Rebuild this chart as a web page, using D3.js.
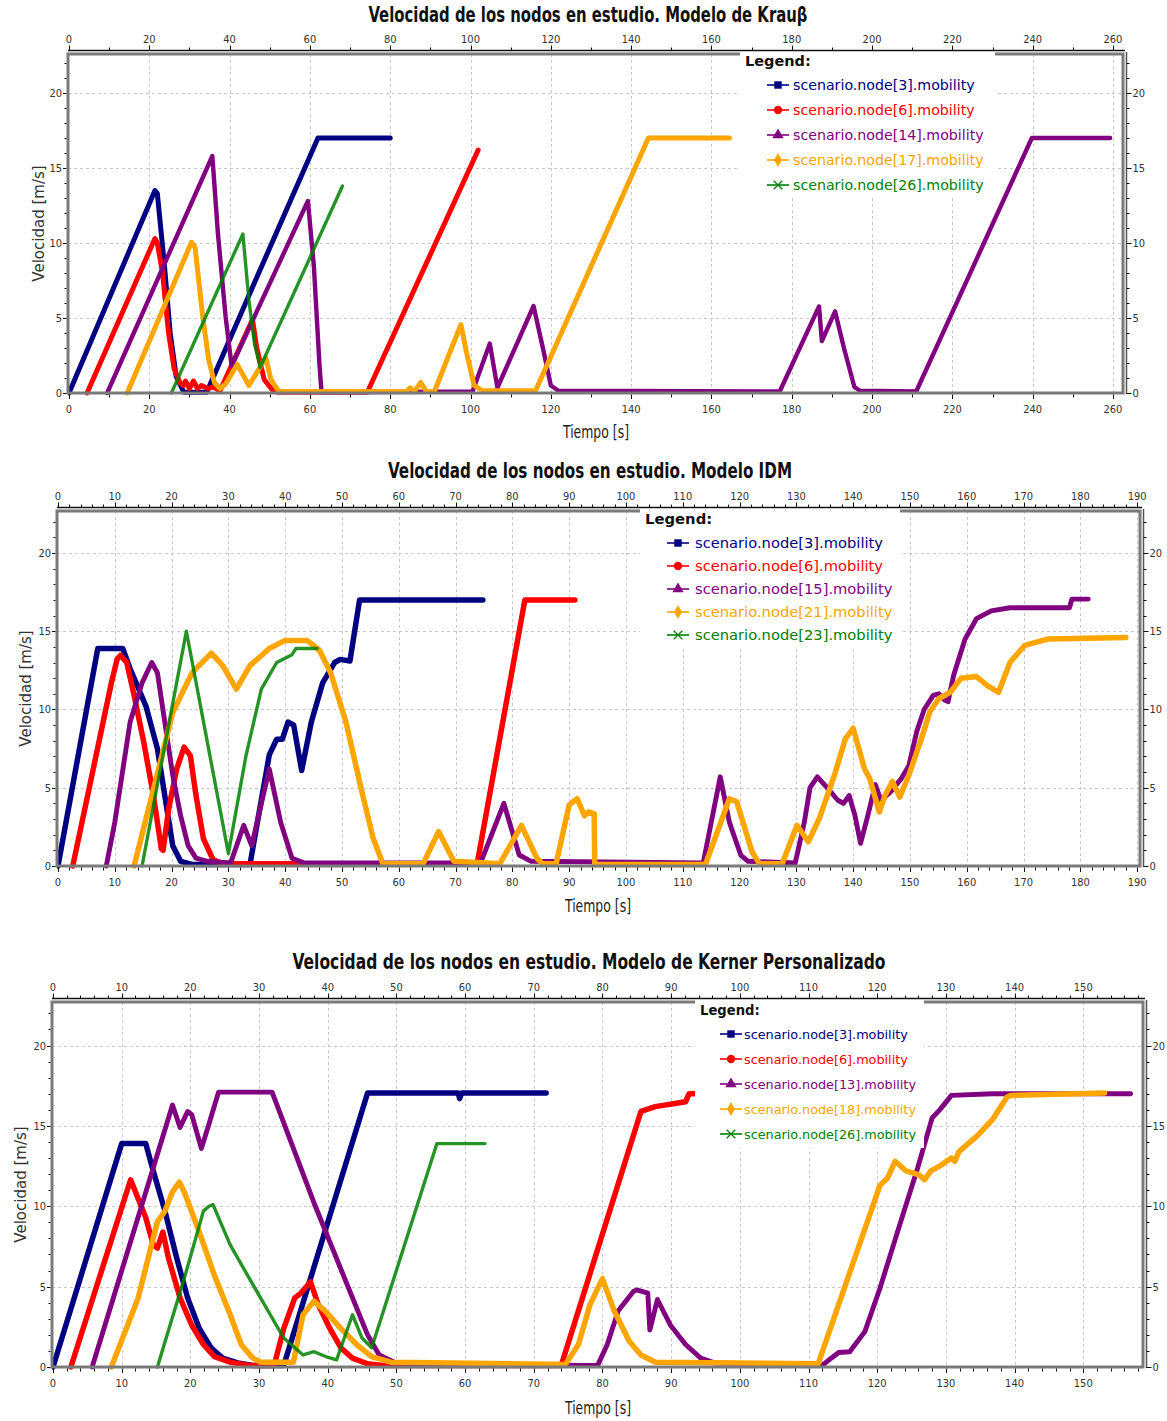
<!DOCTYPE html>
<html lang="es">
<head>
<meta charset="UTF-8">
<title>Velocidad de los nodos en estudio</title>
<style>
  body { margin: 0; background: #fff; }
  svg { display: block; background: #fff; }
  .title { font-family: "Liberation Sans Narrow", "DejaVu Sans Condensed", "Liberation Sans", sans-serif; font-weight: bold; font-size: 21px; fill: #111; }
  .tick-label { font-family: "Liberation Sans Narrow", "DejaVu Sans Condensed", "Liberation Sans", sans-serif; font-size: 11px; fill: #333; }
  .x-label { font-family: "Liberation Sans Narrow", "DejaVu Sans Condensed", "Liberation Sans", sans-serif; font-size: 17px; fill: #222; }
  .y-label { font-family: "DejaVu Sans", "Liberation Sans", sans-serif; font-size: 15px; fill: #333; }
  .legend-title { font-family: "DejaVu Sans", "Liberation Sans", sans-serif; font-weight: bold; fill: #111; }
  .legend-text { font-family: "DejaVu Sans", "Liberation Sans", sans-serif; }
</style>
</head>
<body>
<svg id="chart" width="1167" height="1421"></svg>

<script src="https://cdnjs.cloudflare.com/ajax/libs/d3/7.8.5/d3.min.js"></script>
<script>
    // ---- data: [tiempo (s), velocidad (m/s)] ----

    // Modelo de Krauss
    const kraussNames = ["scenario.node[3].mobility", "scenario.node[6].mobility", "scenario.node[14].mobility",
        "scenario.node[17].mobility", "scenario.node[26].mobility"];
    const krauss3 = [[0,0],[21.4,13.5],[22,13.3],[23.8,8.4],[25.2,4],[26.7,1.1],[28.6,0.05],[34.3,0.05],
        [44.8,6.5],[62,17],[80,17]];
    const krauss6 = [[4.5,0],[21.4,10.3],[22,10],[23.3,8],[24.8,4],[26.2,1.6],[27.6,0.7],[28.5,0.5],[29,0.8],
        [30,0.3],[31,0.8],[32,0.3],[33,0.5],[34.5,0.3],[36,0.4],[37.6,0.15],[45.7,4.9],[46.7,3.1],[48.6,0.9],
        [50.5,0.25],[52,0.05],[74.3,0.05],[101.9,16.2]];
    const krauss14 = [[9.5,0],[35.7,15.8],[37.1,10.6],[39,5.1],[40.5,1.8],[59.5,12.8],[61,8.4],[62.4,1.8],
        [62.9,0.05],[100.5,0.1],[104.8,3.3],[106.7,0.35],[115.7,5.8],[118.1,2.9],[120,0.5],[121.9,0.15],
        [177,0.1],[186.8,5.77],[187.5,3.46],[190.8,5.44],[193,3],[195.6,0.4],[197,0.15],[211,0.1],
        [239.8,17],[259.3,17]];
    const krauss17 = [[14.5,0],[30.5,10.05],[31.4,9.7],[33.3,5.1],[34.8,2.2],[36.2,0.7],[37.6,0.3],[39,0.6],
        [41.9,1.9],[44.8,0.5],[49,2.35],[50.3,0.9],[52,0.2],[53,0.1],[84,0.1],[85,0.35],[86,0.1],[87.6,0.7],
        [89,0.1],[91,0.1],[97.6,4.56],[99,2.7],[100.9,0.5],[103,0.15],[116.2,0.15],[144.3,17],[164.5,17]];
    const krauss26 = [[25.5,0],[43.3,10.6],[44.8,6.2],[46.2,3.3],[47.6,1.7],[68.1,13.8]];

    // Modelo IDM
    const idmNames = ["scenario.node[3].mobility", "scenario.node[6].mobility", "scenario.node[15].mobility",
        "scenario.node[21].mobility", "scenario.node[23].mobility"];
    const idm3 = [[0,0],[7,13.9],[11.4,13.9],[12.7,12.6],[15.5,10.2],[17.5,7.5],[18.8,4.5],[20.2,1.3],
        [21.6,0.3],[23.6,0.1],[33.8,0.1],[37.2,7.1],[38.5,8.1],[39.5,8.1],[40.5,9.2],[41.5,9],[42.9,6.1],
        [44.6,9.2],[46.6,11.7],[48.7,13],[49.7,13.2],[51.4,13.1],[53.1,17],[74.8,17]];
    const idm6 = [[2.6,0],[9.4,11.7],[10.4,13.2],[11,13.45],[12.1,13],[13.4,10.9],[15.1,7.9],[16.8,4.5],
        [18.2,1.1],[18.5,1],[19.5,3.7],[20.9,6.2],[22.2,7.6],[23.3,7.05],[24.3,4.5],[25.6,1.75],[27.3,0.4],
        [29,0.15],[73.8,0.15],[82.2,17],[91,17]];
    const idm15 = [[8.5,0],[10,2.8],[12.7,9.2],[14.8,11.7],[16.5,13],[17.5,12.35],[18.8,9.2],[20.2,5.8],
        [21.6,3.2],[22.9,1.3],[24.3,0.5],[26.3,0.3],[30.4,0.2],[32.7,2.6],[34.1,1.3],[37.2,6.2],[39.2,2.8],
        [41.2,0.5],[43.3,0.2],[74.4,0.2],[78.5,4],[81.2,0.7],[83.3,0.3],[113.6,0.2],[116.6,5.7],[118.2,2.8],
        [120.2,0.7],[121.5,0.3],[129.8,0.2],[131.4,2.8],[132.4,5],[133.7,5.7],[135.4,5],[137.3,4.2],[138.3,4],
        [139.3,4.5],[140.3,3.25],[141.3,1.45],[142.6,3.25],[143.9,5.2],[144.9,4.2],[146.5,4.7],[148.5,5.6],
        [149.8,6.4],[151.2,8.6],[152.5,10],[154.1,10.9],[155.1,11],[156.1,10.6],[156.7,10.5],[157.7,12.2],
        [159.7,14.5],[161.7,15.8],[164.3,16.3],[167.6,16.5],[178.1,16.5],[178.5,17.05],[181.4,17.05]];
    const idm21 = [[13.4,0],[16.8,4.9],[20.2,9.8],[23.6,12.35],[27,13.6],[29,12.8],[31.4,11.3],[33.8,12.8],
        [37.2,13.9],[39.9,14.4],[43.9,14.4],[46,13.8],[48,12.35],[50.7,9.2],[53.4,4.9],[55.5,1.75],[57.2,0.15],
        [64.3,0.15],[67,2.2],[69.7,0.3],[77.8,0.15],[81.6,2.6],[84.3,0.5],[85.3,0.15],[87.7,0.15],[90,3.9],
        [91.4,4.3],[92.7,3.2],[93.4,3.45],[94.4,3.35],[94.5,0.1],[114,0.1],[118.2,4.3],[119.5,4.1],[122.2,0.9],
        [123.5,0.15],[127.5,0.15],[130.1,2.6],[132.1,1.55],[134,3],[136.7,5.8],[138.6,8.1],[140,8.8],[142,6.2],
        [142.9,5.6],[144.6,3.45],[145.6,4.5],[146.9,5.4],[148.2,4.4],[149.8,5.8],[151.8,7.9],[153.5,9.85],
        [155.1,10.7],[157.1,11.1],[159,12],[161.7,12.1],[163.7,11.5],[165.6,11.1],[167.6,13],[170.2,14.1],
        [174.2,14.5],[188,14.6]];
    const idm23 = [[14.8,0],[22.6,15],[30,0.8],[33.1,7.05],[35.8,11.3],[38.5,13],[41.2,13.5],[41.9,13.9],[45.6,13.9]];

    // Modelo de Kerner personalizado
    const kernerNames = ["scenario.node[3].mobility", "scenario.node[6].mobility", "scenario.node[13].mobility",
        "scenario.node[18].mobility", "scenario.node[26].mobility"];
    const kerner3 = [[0,0],[10,13.9],[13.5,13.9],[14.6,12.2],[16.3,9.7],[18,6.8],[19.6,4.3],[21.3,2.4],[23,1.2],
        [24.7,0.55],[26.9,0.25],[29.1,0.1],[33.6,0.1],[45.8,17.05],[59,17.05],[59.2,16.7],[59.5,17.05],[71.8,17.05]];
    const kerner6 = [[2.6,0],[11.3,11.65],[13.5,9.3],[14.6,7.6],[15.2,7.4],[16,8.4],[16.8,6.8],[18.5,4.3],
        [20.2,2.6],[21.9,1.4],[23.5,0.65],[25.8,0.3],[28.6,0.1],[32.2,0.1],[33.6,2.4],[35.2,4.3],[36.1,4.6],
        [37.5,5.3],[38.6,3.9],[40.3,2.4],[41.9,1.2],[43.6,0.55],[45.8,0.2],[48,0.1],[74,0.1],[85.6,15.9],
        [87.7,16.2],[92.1,16.5],[92.6,17],[93.7,17]];
    const kerner13 = [[5.7,0],[17.4,16.3],[18.5,14.9],[19.6,15.9],[20.2,15.7],[21.6,13.6],[22.7,15.1],[24.1,17.1],
        [31.9,17.1],[38.2,10],[45.8,2],[47.5,0.75],[49.7,0.3],[53.6,0.15],[79.3,0.1],[80.7,1.4],[82.3,3.5],
        [84.5,4.7],[85,4.8],[86.6,4.6],[86.9,2.3],[88,4.2],[89.9,2.6],[92.1,1.4],[94.3,0.55],[96.4,0.25],
        [112,0.1],[113.3,0.55],[114.4,0.9],[116,0.95],[118.2,2.2],[120.4,4.9],[123.1,8.6],[125.9,12.4],
        [128,15.5],[129.1,16],[130.8,16.9],[136.8,17],[156.9,17]];
    const kerner18 = [[8.5,0],[12.4,4.3],[15.2,9.05],[16.3,9.7],[17.4,10.9],[18.4,11.5],[19.1,10.9],[21.3,8.4],
        [23.5,5.7],[25.8,3.25],[27.4,1.4],[29.1,0.55],[30.2,0.3],[35,0.3],[36.4,3.25],[38,4.1],[39.7,3.45],
        [41.9,2.4],[44.2,1.4],[46.4,0.65],[49.2,0.3],[74.6,0.15],[76.5,1.4],[78.2,3.9],[80,5.5],[81.7,3.5],
        [83.9,1.6],[85.6,0.75],[87.7,0.3],[111.4,0.2],[120.4,11.3],[121.5,11.75],[122.6,12.8],[124.2,12.2],
        [126.1,11.95],[126.9,11.65],[127.8,12.2],[129.1,12.5],[130.8,13],[131.3,12.8],[131.9,13.4],[134.6,14.4],
        [136.8,15.4],[138.9,16.8],[139.5,16.9],[153.1,17.05]];
    const kerner26 = [[15.2,0],[19.1,5.5],[21.9,9.7],[22.7,10],[23.3,10.1],[25.8,7.6],[28.6,5.5],[31.3,3.5],
        [33.6,1.8],[36.4,0.75],[38,0.95],[39.7,0.65],[41.3,0.45],[43.6,3.25],[45,1.8],[46.4,1.2],[55.9,13.9],[62.9,13.9]];

    // tick values
    const kraussXTicks = d3.range(0, 261, 20);
    const idmXTicks = d3.range(0, 191, 10);
    const kernerXTicks = d3.range(0, 151, 10);
    const yTicks = [0, 5, 10, 15, 20];

    const titles = ["Velocidad de los nodos en estudio. Modelo de Krau\u03b2",
        "Velocidad de los nodos en estudio. Modelo IDM",
        "Velocidad de los nodos en estudio. Modelo de Kerner Personalizado"];

    // styles, in legend order
    const colors = ["#000080", "#ff0000", "#800080", "#ffa500", "#008000"];
    const markers = [d3.symbolSquare, d3.symbolCircle, d3.symbolTriangle, d3.symbolDiamond, d3.symbolTimes];

    const svg = d3.select("#chart");

    // layout of each panel (pixels)
    const panels = [
        { title: titles[0], names: kraussNames, series: [krauss3, krauss6, krauss14, krauss17, krauss26],
          xTicks: kraussXTicks, xMinor: 10, xMax: 262.5, x0: 69, x1: 1123, y0: 393, top: 54, yMax: 22.6,
          titleX: 588, titleY: 22, titleW: 439, xLabelX: 596, xLabelY: 438, yLabelX: 44, leftLabX: 62,
          legend: { x: 745, y: 66, mx: 778, tx: 793, box: [740, 995, 198], gap: 25, size: 14.2, tsize: 14.5 }, lw: 5 },
        { title: titles[1], names: idmNames, series: [idm3, idm6, idm15, idm21, idm23],
          xTicks: idmXTicks, xMinor: 2, xMax: 190.5, x0: 58, x1: 1140, y0: 866, top: 511, yMax: 22.68,
          titleX: 590, titleY: 478, titleW: 404, xLabelX: 598, xLabelY: 912, yLabelX: 31, leftLabX: 51,
          legend: { x: 645, y: 524, mx: 678, tx: 695, box: [640, 900, 646], gap: 23, size: 14.7, tsize: 14.8 }, lw: 5.5 },
        { title: titles[2], names: kernerNames, series: [kerner3, kerner6, kerner13, kerner18, kerner26],
          xTicks: kernerXTicks, xMinor: 2, xMax: 158.7, x0: 53, x1: 1143, y0: 1367, top: 1002, yMax: 22.71,
          titleX: 589, titleY: 969, titleW: 593, xLabelX: 598, xLabelY: 1414, yLabelX: 26, leftLabX: 46,
          legend: { x: 700, y: 1015, mx: 731, tx: 744, box: [695, 924, 1148], gap: 25, size: 12.8, tsize: 13.2 }, lw: 5.5 }
    ];

    panels.forEach(drawPanel);

    function drawPanel(p) {
        const g = svg.append("g");
        const x = d3.scaleLinear().domain([0, p.xMax]).range([p.x0, p.x1]);
        const y = d3.scaleLinear().domain([0, p.yMax]).range([p.y0, p.top]);
        const left = p.x0 - 1, right = p.x1, top = p.top, bottom = p.y0;

        // title
        g.append("text").attr("class", "title")
            .attr("x", p.titleX).attr("y", p.titleY)
            .attr("text-anchor", "middle")
            .attr("textLength", p.titleW).attr("lengthAdjust", "spacingAndGlyphs")
            .text(p.title);

        // dashed grid
        const grid = g.append("g").attr("stroke", "#c9c9c9").attr("stroke-dasharray", "3,3").attr("stroke-width", 1);
        grid.selectAll("line.gx").data(p.xTicks.filter(d => d > 0)).join("line")
            .attr("x1", d => Math.round(x(d)) + 0.5).attr("x2", d => Math.round(x(d)) + 0.5)
            .attr("y1", top).attr("y2", bottom);
        grid.selectAll("line.gy").data(yTicks.filter(d => d > 0)).join("line")
            .attr("y1", d => Math.round(y(d)) + 0.5).attr("y2", d => Math.round(y(d)) + 0.5)
            .attr("x1", left).attr("x2", right);

        // series (clipped to the plot)
        const clipId = "clip" + p.y0;
        svg.append("clipPath").attr("id", clipId).append("rect")
            .attr("x", left).attr("y", top).attr("width", right - left).attr("height", bottom - top + 3);
        const line = d3.line().x(d => x(d[0])).y(d => y(d[1]));
        const lines = g.append("g").attr("clip-path", `url(#${clipId})`);
        p.series.forEach((s, i) => {
            lines.append("path")
                .attr("d", line(s))
                .attr("fill", "none")
                .attr("stroke", colors[i])
                .attr("stroke-width", i === 4 ? 3.4 : (i === 2 ? p.lw - 0.6 : p.lw))
                .attr("stroke-opacity", i === 4 ? 0.85 : 1)
                .attr("stroke-linejoin", "round")
                .attr("stroke-linecap", "round");
        });

        // legend (white box hides grid and frame under it)
        const L = p.legend;
        const lg = g.append("g");
        lg.append("rect").attr("x", L.box[0]).attr("y", top - 2)
            .attr("width", L.box[1] - L.box[0]).attr("height", L.box[2] - top + 2).attr("fill", "#fff");

        // plot frame
        g.append("rect").attr("x", left).attr("y", top).attr("width", right - left).attr("height", bottom - top)
            .attr("fill", "none").attr("stroke", "#7a7a7a").attr("stroke-width", 3);
        // white legend box over the top frame
        g.append("rect").attr("x", L.box[0]).attr("y", top - 2)
            .attr("width", L.box[1] - L.box[0]).attr("height", 6).attr("fill", "#fff");

        lg.raise();
        lg.append("text").attr("class", "legend-title")
            .attr("x", L.x).attr("y", L.y).style("font-size", L.tsize + "px").text("Legend:");
        p.names.forEach((name, i) => {
            const cy = L.y + 19 + i * L.gap;
            lg.append("line").attr("x1", L.mx - 11).attr("x2", L.mx + 11).attr("y1", cy).attr("y2", cy)
                .attr("stroke", colors[i]).attr("stroke-width", 1.6);
            const sym = d3.symbol().type(markers[i]).size(i === 4 ? 50 : 55);
            lg.append("path").attr("d", sym()).attr("transform", `translate(${L.mx},${cy})`)
                .attr("fill", i === 4 ? "none" : colors[i])
                .attr("stroke", i === 4 ? colors[i] : "none").attr("stroke-width", 1.3);
            lg.append("text").attr("class", "legend-text")
                .attr("x", L.tx).attr("y", cy + 5)
                .style("font-size", L.size + "px")
                .attr("fill", colors[i])
                .text(name);
        });

        // top axis
        const axTop = top - 3.5;
        const minorX = d3.range(0, p.xMax + 0.001, p.xMinor);
        const ax = g.append("g").attr("stroke", "#111").attr("stroke-width", 1);
        ax.append("line").attr("x1", left).attr("x2", right + 2).attr("y1", axTop).attr("y2", axTop)
            .attr("stroke-width", 1.5);
        ax.selectAll("line.tt").data(minorX).join("line")
            .attr("x1", d => Math.round(x(d)) + 0.5).attr("x2", d => Math.round(x(d)) + 0.5)
            .attr("y1", axTop).attr("y2", d => axTop - (p.xTicks.includes(d) ? 5 : 3));
        // bottom ticks
        ax.selectAll("line.bt").data(minorX).join("line")
            .attr("x1", d => Math.round(x(d)) + 0.5).attr("x2", d => Math.round(x(d)) + 0.5)
            .attr("y1", bottom + 1.5).attr("y2", d => bottom + (p.xTicks.includes(d) ? 6 : 4.5));
        // left ticks
        const minorY = d3.range(0, Math.floor(p.yMax) + 1, 1);
        ax.selectAll("line.lt").data(minorY).join("line")
            .attr("y1", d => Math.round(y(d)) + 0.5).attr("y2", d => Math.round(y(d)) + 0.5)
            .attr("x1", left - 1.5).attr("x2", d => left - (yTicks.includes(d) ? 5 : 3.5));
        // right axis
        const axRight = right + 3.5;
        ax.append("line").attr("x1", axRight).attr("x2", axRight).attr("y1", top - 2).attr("y2", bottom + 1)
            .attr("stroke", "#555").attr("stroke-width", 1.5);
        ax.selectAll("line.rt").data(minorY).join("line")
            .attr("y1", d => Math.round(y(d)) + 0.5).attr("y2", d => Math.round(y(d)) + 0.5)
            .attr("x1", axRight).attr("x2", d => axRight + (yTicks.includes(d) ? 5 : 3));

        // tick labels
        g.selectAll("text.tx").data(p.xTicks).join("text").attr("class", "tick-label")
            .attr("x", d => x(d)).attr("y", axTop - 8).attr("text-anchor", "middle").text(d => d);
        g.selectAll("text.bx").data(p.xTicks).join("text").attr("class", "tick-label")
            .attr("x", d => x(d)).attr("y", bottom + 20).attr("text-anchor", "middle").text(d => d);
        g.selectAll("text.ly").data(yTicks).join("text").attr("class", "tick-label")
            .attr("x", p.leftLabX).attr("y", d => y(d) + 4).attr("text-anchor", "end").text(d => d);
        g.selectAll("text.ry").data(yTicks).join("text").attr("class", "tick-label")
            .attr("x", axRight + 6).attr("y", d => y(d) + 4).text(d => d);

        // axis titles
        g.append("text").attr("class", "x-label")
            .attr("x", p.xLabelX).attr("y", p.xLabelY).attr("text-anchor", "middle")
            .attr("textLength", 66).attr("lengthAdjust", "spacingAndGlyphs")
            .text("Tiempo [s]");
        const ym = (top + bottom) / 2;
        g.append("text").attr("class", "y-label")
            .attr("transform", `translate(${p.yLabelX},${ym}) rotate(-90)`)
            .attr("text-anchor", "middle")
            .text("Velocidad [m/s]");
    }
</script>
</body>
</html>
